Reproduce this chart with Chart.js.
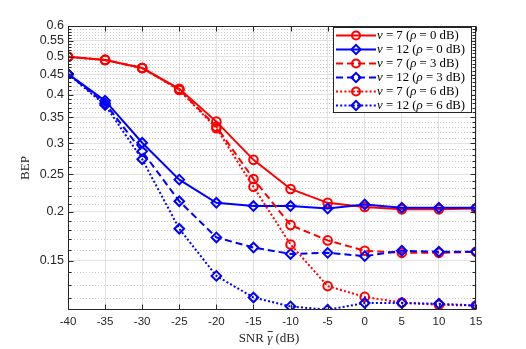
<!DOCTYPE html>
<html><head><meta charset="utf-8">
<script src="https://cdn.jsdelivr.net/npm/chart.js@4/dist/chart.umd.min.js"></script>
<style>html,body{margin:0;padding:0;background:#fff;}</style>
</head><body>
<canvas id="c" width="526" height="349"></canvas>
<script>
// ---------- data ----------
const snrDb = [-40, -35, -30, -25, -20, -15, -10, -5, 0, 5, 10, 15];
const xTickValues = [-40, -35, -30, -25, -20, -15, -10, -5, 0, 5, 10, 15];
const yMajorTicks = [0.15, 0.2, 0.25, 0.3, 0.35, 0.4, 0.45, 0.5, 0.55, 0.6];
const yTickLabels = ['0.15', '0.2', '0.25', '0.3', '0.35', '0.4', '0.45', '0.5', '0.55', '0.6'];
const yMinorTicks = [0.12, 0.13, 0.14, 0.16, 0.17, 0.18, 0.19, 0.21, 0.22, 0.23, 0.24,
  0.26, 0.27, 0.28, 0.29, 0.31, 0.32, 0.33, 0.34, 0.36, 0.37, 0.38, 0.39,
  0.41, 0.42, 0.43, 0.44, 0.46, 0.47, 0.48, 0.49, 0.51, 0.52, 0.53, 0.54,
  0.56, 0.57, 0.58, 0.59];
const yMin = 0.112, yMax = 0.6;

const bepNu7Rho0  = [0.500, 0.491, 0.468, 0.414, 0.341, 0.272, 0.229, 0.211, 0.206, 0.203, 0.203, 0.204];
const bepNu12Rho0 = [0.452, 0.386, 0.301, 0.242, 0.211, 0.207, 0.207, 0.204, 0.209, 0.205, 0.205, 0.205];
const bepNu7Rho3  = [0.500, 0.491, 0.468, 0.412, 0.331, 0.243, 0.185, 0.169, 0.159, 0.157, 0.157, 0.158];
const bepNu12Rho3 = [0.452, 0.380, 0.286, 0.213, 0.172, 0.162, 0.156, 0.157, 0.154, 0.159, 0.158, 0.158];
const bepNu7Rho6  = [0.500, 0.491, 0.468, 0.411, 0.328, 0.232, 0.165, 0.129, 0.121, 0.117, 0.1155, 0.115];
const bepNu12Rho6 = [0.452, 0.376, 0.273, 0.181, 0.137, 0.1206, 0.1144, 0.1122, 0.1167, 0.1167, 0.1162, 0.115];

const legendNu  = [7, 12, 7, 12, 7, 12];
const legendRho = [0, 0, 3, 3, 6, 6];
const seriesValues = [bepNu7Rho0, bepNu12Rho0, bepNu7Rho3, bepNu12Rho3, bepNu7Rho6, bepNu12Rho6];
const seriesColors = ['#ff0000', '#0000ff', '#ff0000', '#0000ff', '#ff0000', '#0000ff'];
const seriesMarkers = ['circle', 'rectRot', 'circle', 'rectRot', 'circle', 'rectRot'];
const seriesDash = [[], [], [7, 4], [7, 4], [2, 2.2], [2, 2.2]];

const xTitle = 'SNR';
const xTitleSym = 'γ';
const xTitleUnit = ' (dB)';
const yTitle = 'BEP';

const tickFamily = "'Liberation Sans', Arial, Helvetica, sans-serif";

// ---------- chart ----------
const datasets = seriesValues.map((vals, i) => ({
  label: 'ν = ' + legendNu[i] + ' (ρ = ' + legendRho[i] + ' dB)',
  data: snrDb.map((x, k) => ({ x: x, y: vals[k] })),
  borderColor: seriesColors[i],
  backgroundColor: 'rgba(0,0,0,0)',
  borderWidth: 2,
  borderDash: seriesDash[i],
  pointStyle: seriesMarkers[i],
  pointRadius: seriesMarkers[i] === 'circle' ? 4.3 : 4.8,
  pointBorderWidth: 2,
  pointBorderColor: seriesColors[i],
  pointBackgroundColor: 'rgba(0,0,0,0)',
  tension: 0,
  order: seriesValues.length - i
}));

function drawMarker(ctx, style, x, y, r) {
  ctx.beginPath();
  if (style === 'circle') {
    ctx.arc(x, y, r, 0, Math.PI * 2);
  } else {
    ctx.moveTo(x - r, y); ctx.lineTo(x, y - r); ctx.lineTo(x + r, y); ctx.lineTo(x, y + r); ctx.closePath();
  }
  ctx.stroke();
}

const matlabPlugin = {
  id: 'matlabLook',
  beforeDatasetsDraw(chart) {
    const { ctx, chartArea: a, scales: { y } } = chart;
    ctx.save();
    ctx.strokeStyle = '#c8c8c8';
    ctx.lineWidth = 1;
    ctx.setLineDash([1, 2]);
    yMinorTicks.forEach(v => {
      if (v < yMin || v > yMax) return;
      const py = Math.round(y.getPixelForValue(v)) + 0.5;
      ctx.beginPath(); ctx.moveTo(a.left, py); ctx.lineTo(a.right, py); ctx.stroke();
    });
    ctx.restore();
  },
  afterDatasetsDraw(chart) {
    const { ctx, chartArea: a, scales: { x, y } } = chart;
    ctx.save();
    ctx.strokeStyle = '#262626';
    ctx.lineWidth = 1;
    ctx.setLineDash([]);
    const L = Math.round(a.left) + 0.5, R = Math.round(a.right) - 0.5;
    const T = Math.round(a.top) + 0.5, B = Math.round(a.bottom) - 0.5;
    ctx.strokeRect(L, T, R - L, B - T);
    ctx.beginPath();
    yMajorTicks.forEach(v => {
      const py = Math.round(y.getPixelForValue(v)) + 0.5;
      ctx.moveTo(L, py); ctx.lineTo(L + 5, py);
      ctx.moveTo(R, py); ctx.lineTo(R - 5, py);
    });
    yMinorTicks.forEach(v => {
      if (v < yMin || v > yMax) return;
      const py = Math.round(y.getPixelForValue(v)) + 0.5;
      ctx.moveTo(L, py); ctx.lineTo(L + 3, py);
      ctx.moveTo(R, py); ctx.lineTo(R - 3, py);
    });
    xTickValues.forEach(v => {
      const px = Math.round(x.getPixelForValue(v)) + 0.5;
      ctx.moveTo(px, B); ctx.lineTo(px, B - 5);
      ctx.moveTo(px, T); ctx.lineTo(px, T + 5);
    });
    ctx.stroke();
    ctx.restore();
  },
  afterDraw(chart) {
    const { ctx, chartArea: a } = chart;
    ctx.save();
    // legend
    const bx = 333.5, by = 27.5, bw = 138, bh = 85;
    ctx.fillStyle = '#ffffff';
    ctx.fillRect(bx, by, bw, bh);
    ctx.strokeStyle = '#262626';
    ctx.lineWidth = 1;
    ctx.strokeRect(bx, by, bw, bh);
    chart.data.datasets.forEach((ds, i) => {
      const ry = 35.5 + 14 * i;
      ctx.strokeStyle = ds.borderColor;
      ctx.lineWidth = 2;
      ctx.setLineDash(ds.borderDash);
      ctx.beginPath(); ctx.moveTo(336, ry); ctx.lineTo(376, ry); ctx.stroke();
      ctx.setLineDash([]);
      ctx.lineWidth = 2;
      drawMarker(ctx, ds.pointStyle, 356, ry, ds.pointStyle === 'circle' ? 4 : 4.6);
      const parts = [['ν', true], [' = ' + legendNu[i] + ' (', false], ['ρ', true], [' = ' + legendRho[i] + ' dB)', false]];
      let tx = 377;
      ctx.fillStyle = '#000000';
      ctx.textBaseline = 'middle';
      ctx.textAlign = 'left';
      parts.forEach(([t, it]) => {
        ctx.font = (it ? 'italic ' : '') + '12.8px "Liberation Serif", "DejaVu Serif", serif';
        ctx.fillText(t, tx, ry + 0.5);
        tx += ctx.measureText(t).width;
      });
    });
    // x title
    ctx.fillStyle = '#262626';
    ctx.textBaseline = 'alphabetic';
    ctx.textAlign = 'left';
    const fN = '13px "Liberation Serif", "DejaVu Serif", serif';
    const fI = 'italic 13px "Liberation Serif", "DejaVu Serif", serif';
    ctx.font = fN; const w1 = ctx.measureText(xTitle + ' ').width; const w3 = ctx.measureText(xTitleUnit).width;
    ctx.font = fI; const w2 = ctx.measureText(xTitleSym).width;
    const cx = (a.left + a.right) / 2 - 3;
    let sx = cx - (w1 + w2 + w3) / 2;
    const base = 341.5;
    ctx.font = fN; ctx.fillText(xTitle + ' ', sx, base); sx += w1;
    ctx.font = fI; ctx.fillText(xTitleSym, sx, base);
    ctx.strokeStyle = '#262626'; ctx.lineWidth = 0.9;
    ctx.beginPath(); ctx.moveTo(sx + 0.5, base - 10); ctx.lineTo(sx + w2 + 0.5, base - 10); ctx.stroke();
    sx += w2;
    ctx.font = fN; ctx.fillText(xTitleUnit, sx, base);
    // y title
    ctx.translate(26, (a.top + a.bottom) / 2);
    ctx.rotate(-Math.PI / 2);
    ctx.textAlign = 'center';
    ctx.textBaseline = 'middle';
    ctx.font = fN;
    ctx.fillText(yTitle, 0, 0);
    ctx.restore();
  }
};

new Chart(document.getElementById('c'), {
  type: 'line',
  data: { datasets: datasets },
  plugins: [matlabPlugin],
  options: {
    responsive: false,
    animation: false,
    devicePixelRatio: 1,
    layout: { padding: { top: 26, right: 50, left: 0, bottom: 0 } },
    plugins: { legend: { display: false }, tooltip: { enabled: false }, title: { display: false } },
    scales: {
      x: {
        type: 'linear',
        min: -40, max: 15,
        afterBuildTicks: s => { s.ticks = xTickValues.map(v => ({ value: v })); },
        afterFit: s => { s.height = 39; },
        ticks: {
          callback: v => String(v),
          color: '#262626',
          font: { family: tickFamily, size: 11.5 },
          padding: 5,
          maxRotation: 0, autoSkip: false
        },
        grid: { color: '#e2e2e2', lineWidth: 1, drawTicks: false },
        border: { display: false }
      },
      y: {
        type: 'logarithmic',
        min: yMin, max: yMax,
        afterBuildTicks: s => { s.ticks = yMajorTicks.map(v => ({ value: v })); },
        afterFit: s => { s.width = 68; },
        ticks: {
          callback: (v) => { const k = yMajorTicks.indexOf(v); return k >= 0 ? yTickLabels[k] : ''; },
          color: '#262626',
          font: { family: tickFamily, size: 12.5 },
          padding: 4,
          autoSkip: false
        },
        grid: { color: '#e2e2e2', lineWidth: 1, drawTicks: false },
        border: { display: false }
      }
    }
  }
});
</script>
</body></html>
